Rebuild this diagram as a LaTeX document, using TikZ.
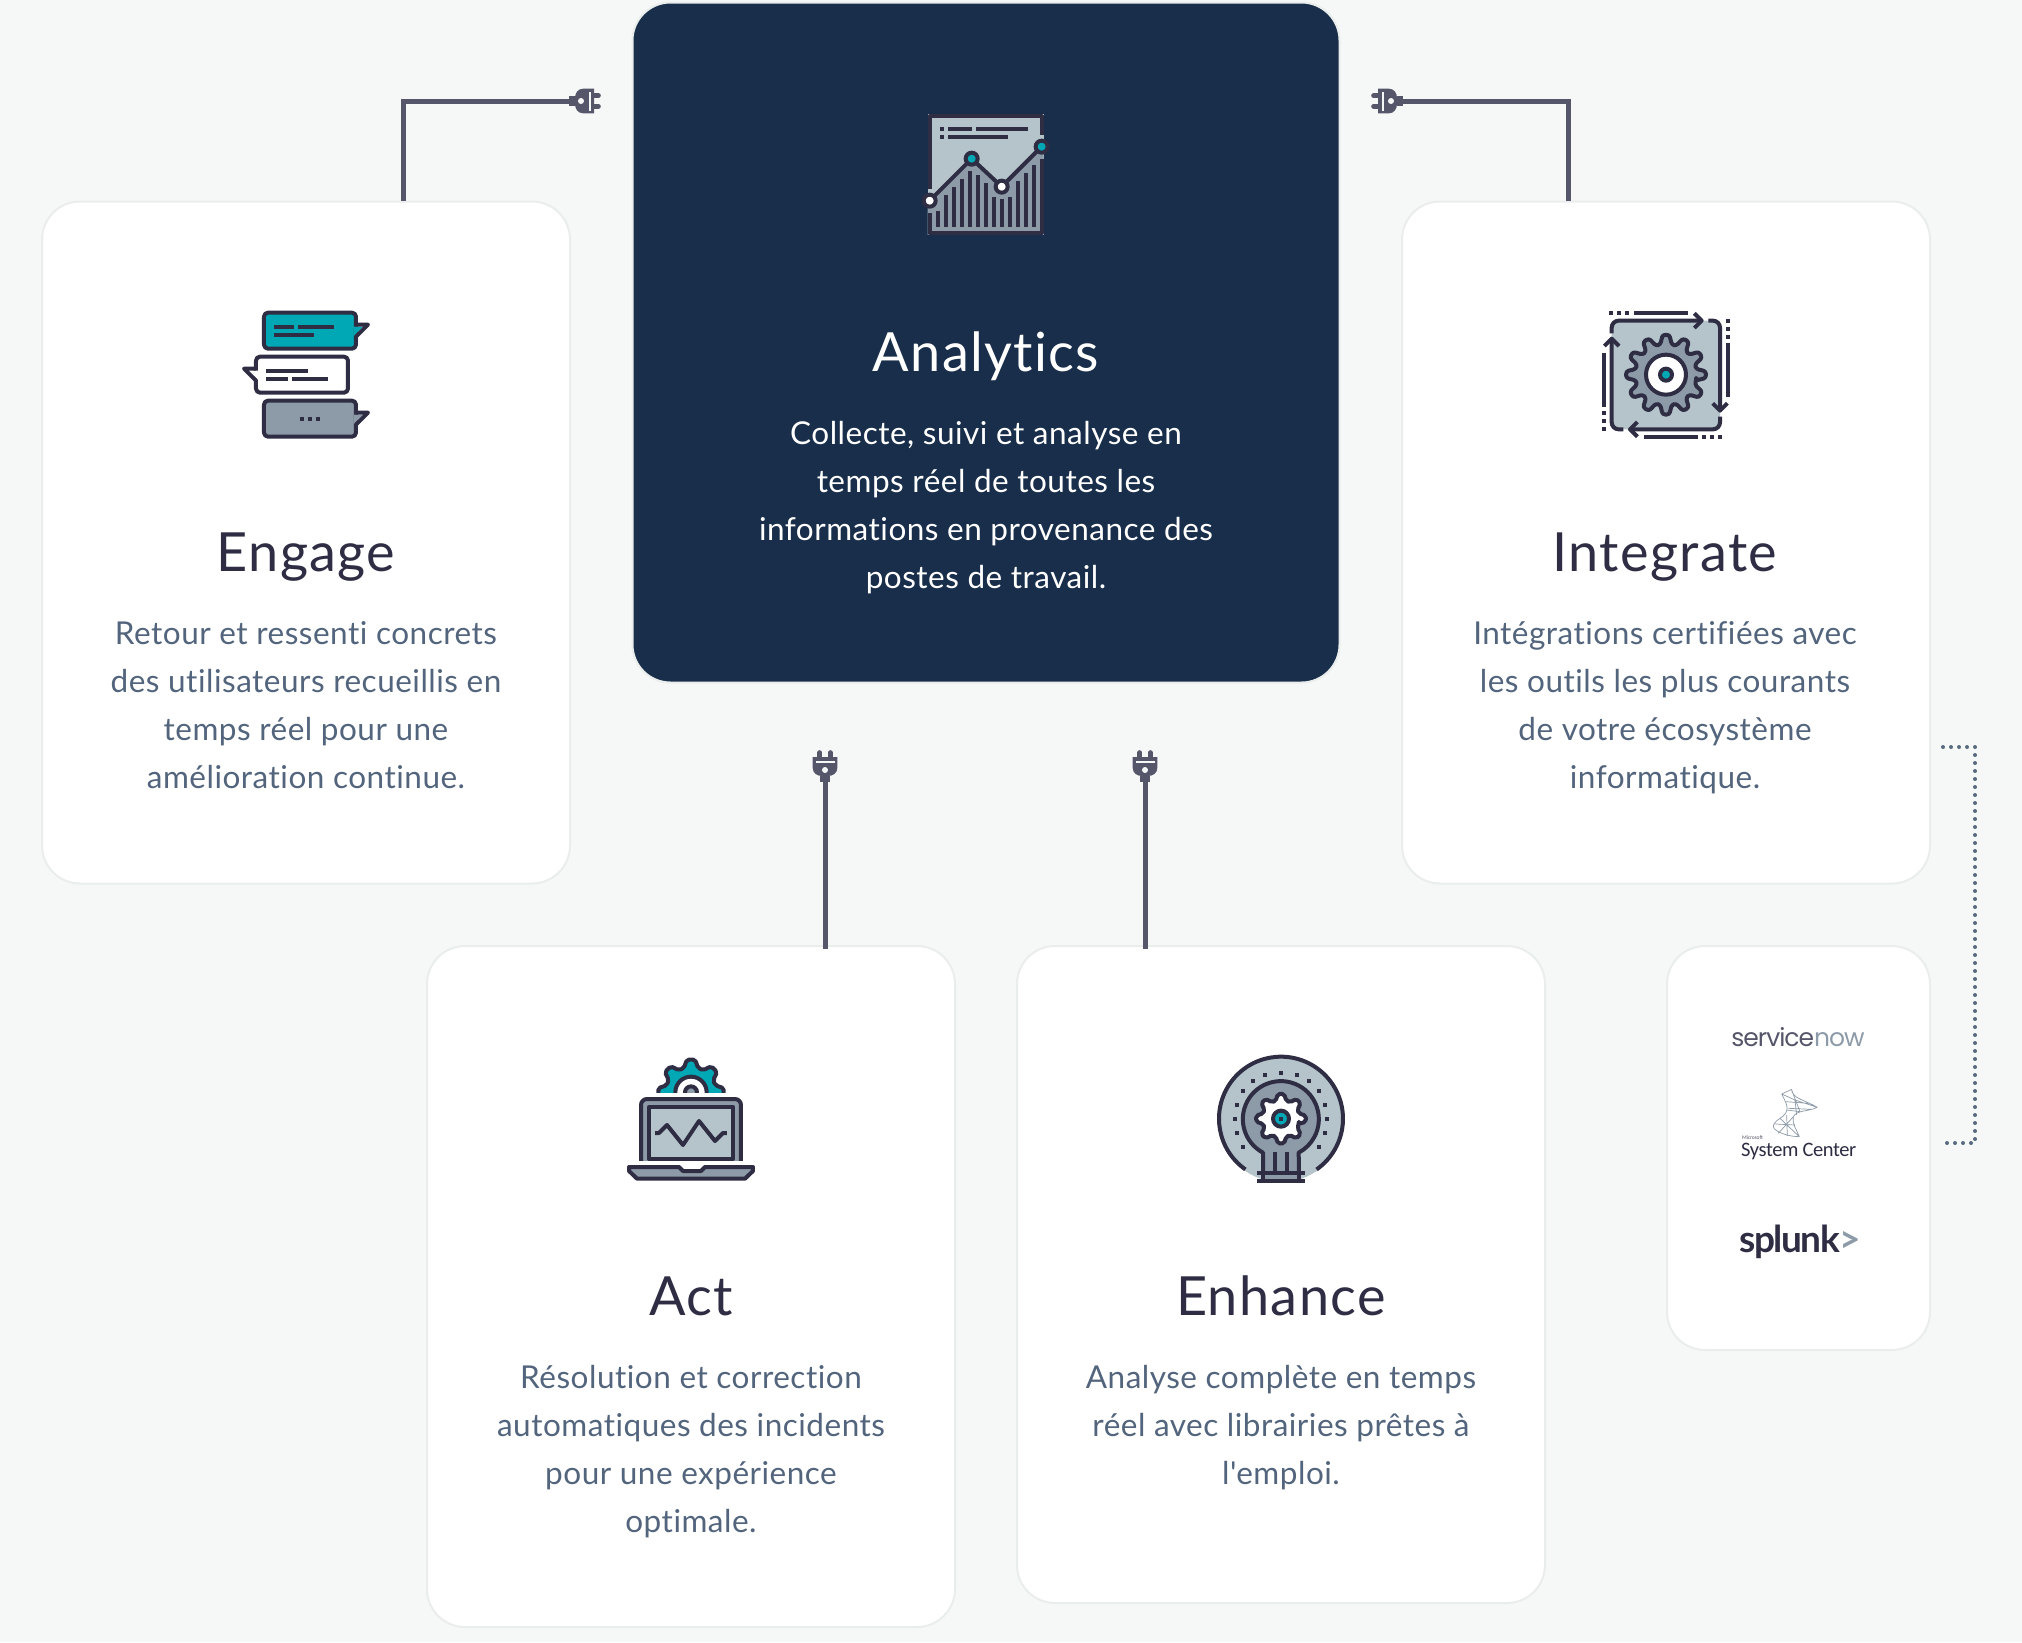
\documentclass[tikz,border=0pt]{standalone}
\usepackage{fontspec}
\setmainfont{Lato}[Ligatures={NoCommon,TeXOff}]
\newfontfamily\blurbfont{Lato}[Ligatures={NoCommon,TeXOff},LetterSpace=1.6]
\newfontfamily\titlefont{Lato}[Ligatures={NoCommon,TeXOff},LetterSpace=2.5]
\newfontfamily\logofont{Poppins}[LetterSpace=-4]
\newfontfamily\msfont{Carlito}[LetterSpace=-2]
\newfontfamily\splunkfont{Lato}[LetterSpace=-4]
\definecolor{pagebg}{HTML}{F6F8F7}
\definecolor{cardline}{HTML}{E9EEEC}
\definecolor{navy}{HTML}{192E4A}
\definecolor{wirecol}{HTML}{56566B}
\definecolor{dotcol}{HTML}{5A6B80}
\definecolor{titlecol}{HTML}{2E2D44}
\definecolor{bodycol}{HTML}{53657D}
\definecolor{icondark}{HTML}{2E2D44}
\definecolor{iconteal}{HTML}{00A7B5}
\definecolor{icongrey}{HTML}{8D9AA8}
\definecolor{iconlight}{HTML}{B5C4CB}
\newcommand{\gearpath}[3]{%
  ({0.36*360/#1}:#3)
  \foreach \k in {1,...,#1} {
    -- ({(\k-0.36)*360/#1}:#3) -- ({(\k-0.16)*360/#1}:#2)
    -- ({(\k+0.16)*360/#1}:#2) -- ({(\k+0.36)*360/#1}:#3)
  } -- cycle}
\tikzset{%
    card/.style={
      rectangle,
      draw=cardline,
      fill=white,
      line width=2pt,
      rounded corners=38pt,
      inner sep=0pt,
      outer sep=0pt
    },
    title/.style={
      text=titlecol,
      anchor=base,
      inner sep=0pt,
      font=\titlefont\fontsize{54}{60}\selectfont
    },
    blurb/.style={
      text=bodycol,
      align=center,
      anchor=north,
      inner sep=0pt,
      font=\blurbfont\fontsize{31.5}{48}\selectfont
    },
    wire/.style={
      draw=wirecol,
      line width=5pt
    },
    dotwire/.style={
      draw=dotcol,
      line width=4pt,
      line cap=round,
      dash pattern=on 0pt off 8pt
    },
    iconzoom/.style={
      x=0.3333pt,
      y=-0.3333pt
    },
    iconline/.style={
      draw=icondark,
      line width=4pt,
      line join=round
    },
    iconbar/.style={
      draw=icondark,
      line width=4pt
    },
    bubble/.style={
      iconline,
      rounded corners=4pt
    },
    plug/.pic={
      \fill [wirecol] (0,-5) rectangle (6.5,5);
      \fill [wirecol] (25,-12.3) -- (25,12.3) -- (14,12.3) .. controls (9,12.3) and (6,8) .. (6,3)
        -- (6,-3) .. controls (6,-8) and (9,-12.3) .. (14,-12.3) -- cycle;
      \fill [pagebg] (12,0) circle (3);
      \fill [pagebg] (19.5,-9.5) rectangle (21.5,9.5);
      \draw [wirecol, line width=4.6pt, line cap=round] (25,-5.3) -- (29.5,-5.3);
      \draw [wirecol, line width=4.6pt, line cap=round] (25,5.3) -- (29.5,5.3);
    }
  }
\begin{document}
\begin{tikzpicture}[x=1pt, y=-1pt]
      \useasboundingbox (0,0) rectangle (2022,1642);
      \fill [pagebg] (0,0) rectangle (2022,1642);

      % cards
      \node [card, minimum width=528pt, minimum height=682pt] (engage) at (306,542.5) {};
      \node [card, minimum width=528pt, minimum height=682pt] (integrate) at (1666,542.5) {};
      \node [card, minimum width=528pt, minimum height=681pt] (act) at (691,1286.5) {};
      \node [card, minimum width=528pt, minimum height=657pt] (enhance) at (1281,1274.5) {};
      \node [card, minimum width=263pt, minimum height=404pt] (logos) at (1798.5,1148) {};
      \node [card, fill=navy, minimum width=707pt, minimum height=680pt] (analytics) at (986,342.5) {};

      \node [title, text=white] (analyticstitle) at (986,371) {Analytics};
      \node [blurb, text=white] (analyticstext) at (986,421) {Collecte, suivi et analyse en\\temps réel de toutes les\\informations en provenance des\\postes de travail.};
      \node [title] (engagetitle) at (306,571) {Engage};
      \node [blurb] (engagetext) at (306,621) {Retour et ressenti concrets\\des utilisateurs recueillis en\\temps réel pour une\\amélioration continue.};
      \node [title] (integratetitle) at (1665,571) {Integrate};
      \node [blurb] (integratetext) at (1665,621) {Intégrations certifiées avec\\les outils les plus courants\\de votre écosystème\\informatique.};
      \node [title] (acttitle) at (691,1315) {Act};
      \node [blurb] (acttext) at (691,1365) {Résolution et correction\\automatiques des incidents\\pour une expérience\\optimale.};
      \node [title] (enhancetitle) at (1281,1315) {Enhance};
      \node [blurb] (enhancetext) at (1281,1365) {Analyse complète en temps\\réel avec librairies prêtes à\\l'emploi.};

      % logos
      \node [inner sep=0pt, text=wirecol, font=\logofont\fontsize{25}{28}\selectfont] (servicenow) at (1798,1037) {service\textcolor{icongrey}{now}};
      \node [inner sep=0pt, anchor=west, text=wirecol, font=\msfont\fontsize{5.5}{6}\selectfont] (microsoft) at (1742,1138) {Microsoft};
      \node [inner sep=0pt, anchor=west, text=icondark, font=\msfont\fontsize{20.5}{24}\selectfont] (syscenter) at (1741,1151) {System Center};
      \node [inner sep=0pt, anchor=west, text=icondark, font=\splunkfont\bfseries\fontsize{37}{42}\selectfont] (splunk) at (1739,1242) {splunk\textcolor{icongrey}{>}};

      % plugs and wires
      \coordinate (engagetop) at (403,201);
      \coordinate (engageplug) at (569,101);
      \coordinate (integratetop) at (1568,201);
      \coordinate (integrateplug) at (1403,101);
      \coordinate (actplug) at (825,782);
      \coordinate (acttop) at (825,949);
      \coordinate (enhanceplug) at (1145,782);
      \coordinate (enhancetop) at (1145,949);
      \coordinate (dotstart) at (1943,747);
      \coordinate (dotcorner) at (1975,747);
      \coordinate (dotlow) at (1975,1143);
      \coordinate (dotend) at (1943,1143);

      \pic at (engageplug) {plug};
      \pic [rotate=180] at (integrateplug) {plug};
      \pic [rotate=90] at (actplug) {plug};
      \pic [rotate=90] at (enhanceplug) {plug};

      \draw [wire] (engagetop) |- (engageplug);
      \draw [wire] (integratetop) |- (integrateplug);
      \draw [wire] (acttop) -- (actplug);
      \draw [wire] (enhancetop) -- (enhanceplug);
      \draw [dotwire] (dotstart) -- (dotcorner) -- (dotlow) -- (dotend);

      % analytics icon
      \begin{scope}[shift={(880,90)}, iconzoom]
        \fill [iconlight] (143,73) rectangle (491,435);
        \fill [icongrey] (143,338) -- (275,206) -- (365,290) -- (491,164) -- (491,435) -- (143,435) -- cycle;
        \draw [iconline] (149,297) -- (149,79) -- (485,79) -- (485,135);
        \draw [iconline] (485,207) -- (485,429) -- (149,429) -- (149,369);
        \foreach \bx/\by in {174/363,198/315,222/291,246/267,270/243,294/255,318/279,342/321,366/327,390/321,414/273,438/249,462/225}
          \draw [iconbar] (\bx,411) -- (\bx,\by);
        \draw [iconbar] (180,117) -- (192,117);
        \draw [iconbar] (204,117) -- (276,117);
        \draw [iconbar] (288,117) -- (444,117);
        \draw [iconbar] (180,141) -- (192,141);
        \draw [iconbar] (204,141) -- (384,141);
        \draw [iconline] (149,332) -- (275,206) -- (365,290) -- (485,170);
        \draw [iconline, fill=white] (149,332) circle (18);
        \draw [iconline, fill=iconteal] (275,206) circle (18);
        \draw [iconline, fill=white] (365,290) circle (18);
        \draw [iconline, fill=iconteal] (485,170) circle (18);
      \end{scope}

      % engage icon
      \begin{scope}[shift={(220,290)}, iconzoom]
        \draw [bubble, fill=iconteal] (132,68) rectangle (408,176);
        \fill [iconteal] (402,110) -- (430,110) -- (402,138) -- cycle;
        \draw [iconline] (408,104) -- (444,104) -- (408,140);
        \draw [bubble, fill=white] (108,200) rectangle (384,308);
        \fill [white] (114,242) -- (86,242) -- (114,270) -- cycle;
        \draw [iconline] (108,236) -- (72,236) -- (108,272);
        \draw [bubble, fill=icongrey] (132,332) rectangle (408,440);
        \fill [icongrey] (402,374) -- (430,374) -- (402,402) -- cycle;
        \draw [iconline] (408,368) -- (444,368) -- (408,404);
        \draw [iconbar] (162,111) -- (222,111);
        \draw [iconbar] (234,111) -- (342,111);
        \draw [iconbar] (162,135) -- (282,135);
        \draw [iconbar] (138,243) -- (264,243);
        \draw [iconbar] (138,267) -- (204,267);
        \draw [iconbar] (216,267) -- (324,267);
        \foreach \dx in {240,264,288}
          \draw [iconbar] (\dx,387) -- ++(12,0);
      \end{scope}

      % integrate icon
      \begin{scope}[shift={(1580,290)}, iconzoom]
        \fill [iconlight, rounded corners=9pt] (95,92) rectangle (420,418);
        \draw [iconline, rounded corners=7pt] (95,130) -- (95,92) -- (365,92);
        \draw [iconline] (343,70) -- (365,92) -- (343,114);
        \draw [iconline, rounded corners=7pt] (385,92) -- (420,92) -- (420,362);
        \draw [iconline] (398,340) -- (420,362) -- (442,340);
        \draw [iconline, rounded corners=7pt] (420,380) -- (420,418) -- (150,418);
        \draw [iconline] (172,396) -- (150,418) -- (172,440);
        \draw [iconline, rounded corners=7pt] (130,418) -- (95,418) -- (95,146);
        \draw [iconline] (73,168) -- (95,146) -- (117,168);
        \draw [iconbar] (162,69) -- (324,69);
        \draw [iconbar] (444,160) -- (444,322);
        \draw [iconbar] (192,441) -- (354,441);
        \draw [iconbar] (72,188) -- (72,350);
        \foreach \sq in {88,112,136} \draw [iconbar] (\sq,69) -- ++(12,0);
        \foreach \sq in {87,111,135} \draw [iconbar] (444,\sq) -- ++(0,12);
        \foreach \sq in {366,390,414} \draw [iconbar] (\sq,441) -- ++(12,0);
        \foreach \sq in {363,387,411} \draw [iconbar] (72,\sq) -- ++(0,12);
        \draw [iconline, fill=icongrey, rounded corners=2.5pt, shift={(258,254)}] \gearpath{12}{120}{92};
        \draw [iconline, fill=white] (258,254) circle (60);
        \draw [iconline, fill=iconteal] (258,254) circle (18);
      \end{scope}

      % act icon
      \begin{scope}[shift={(610,1040)}, iconzoom]
        \begin{scope}
          \clip (100,40) rectangle (380,158);
          \draw [iconline, fill=iconteal, rounded corners=2pt, shift={(243,157)}] \gearpath{8}{99}{76};
          \draw [iconline, fill=white] (243,157) circle (47);
          \draw [iconline, fill=icongrey] (243,157) circle (18);
        \end{scope}
        \draw [iconline, fill=icongrey, rounded corners=6pt] (93,366) -- (93,177) -- (393,177) -- (393,366);
        \draw [iconline, fill=iconlight] (117,201) rectangle (369,357);
        \draw [iconline] (135,279) -- (147,279) -- (171,255) -- (219,315) -- (267,243) -- (315,303) -- (339,279) -- (351,279);
        \fill [white] (80,363) rectangle (410,375);
        \draw [iconline, fill=icongrey] (57,381) -- (207,381) -- (219,393) -- (273,393) -- (285,381) -- (429,381) -- (429,393) -- (405,416) -- (81,416) -- (57,393) -- cycle;
      \end{scope}

      % enhance icon
      \begin{scope}[shift={(1200,1040)}, iconzoom]
        \begin{scope}
          \clip (0,0) rectangle (500,425);
          \fill [iconlight] (243,236) circle (190);
        \end{scope}
        \draw [iconline] (243,236) ++(125:186) arc [start angle=125, end angle=415, radius=186];
        \foreach \sx/\sy in {195/104,243/98,291/104,327/122,357/152,375/194,381/236,375/278,357/320,129/320,111/278,105/236,111/194,129/152,159/122}
          \fill [icondark] (\sx-6,\sy-6) rectangle (\sx+6,\sy+6);
        \draw [iconline, fill=icongrey] (189,399) -- (189,338) arc [start angle=118, end angle=422, radius=114] -- (297,399) -- cycle;
        \draw [iconbar] (225,335) -- (225,399);
        \draw [iconbar] (261,335) -- (261,399);
        \fill [icongrey] (189,399) rectangle (297,423);
        \draw [iconbar] (189,399) -- (189,423);
        \draw [iconbar] (297,399) -- (297,423);
        \draw [iconbar] (171,399) -- (315,399);
        \draw [iconbar] (171,423) -- (315,423);
        \draw [iconline, fill=white, rounded corners=2pt, shift={(243,236)}] \gearpath{8}{75}{56};
        \draw [iconline, fill=iconteal] (243,236) circle (24);
        \fill [icondark] (237,230) rectangle (249,242);
      \end{scope}

      % system center swirl
      \begin{scope}[shift={(1680,1000)}, iconzoom]
        \draw [draw=icongrey, line width=0.7pt, line join=round]
          (305,282) -- (335,268)
          (335,268) .. controls (335,295) and (375,300) .. (412,322)
          (412,322) .. controls (385,335) and (350,330) .. (340,350) .. controls (335,370) and (350,390) .. (358,410)
          (305,282) .. controls (325,320) and (330,335) .. (300,355) .. controls (285,365) and (275,375) .. (282,385)
          (282,385) .. controls (295,400) and (330,410) .. (358,410)
          (305,282) -- (345,300) -- (412,322)
          (318,305) -- (385,310) (325,325) -- (395,328)
          (345,300) -- (350,345) (320,330) -- (360,335) -- (335,270)
          (300,355) -- (358,410) (340,350) -- (295,400) (320,345) -- (322,408) (285,372) -- (345,375);
      \end{scope}
    \end{tikzpicture}
\end{document}
